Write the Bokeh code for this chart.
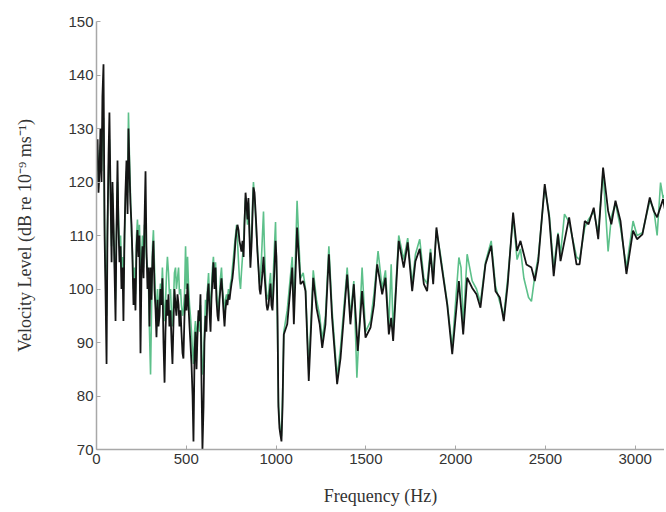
from bokeh.plotting import figure
from bokeh.models import FixedTicker
from bokeh.embed import file_html
from bokeh.resources import INLINE

# ---- black series (frequency in Hz, level in dB) ----
black_freq = [0, 6, 11, 17, 22, 28, 33, 39, 45, 50, 56, 61, 67, 72, 78, 84, 89, 95, 100, 106,
              111, 117, 122, 128, 134, 139, 145, 150, 156, 161, 167, 173, 178, 184, 189, 195, 200, 206, 212, 217,
              223, 228, 234, 239, 245, 251, 256, 262, 267, 273, 278, 284, 290, 295, 301, 306, 312, 317, 323, 329,
              334, 340, 345, 351, 356, 362, 367, 373, 379, 384, 390, 395, 401, 406, 412, 418, 423, 429, 434, 440,
              445, 451, 457, 462, 468, 473, 479, 484, 490, 496, 501, 507, 512, 518, 523, 529, 535, 540, 546, 551,
              557, 562, 568, 574, 579, 585, 590, 596, 601, 607, 612, 618, 624, 629, 635, 640, 646, 651, 657, 663,
              668, 674, 679, 685, 690, 696, 702, 707, 713, 718, 724, 729, 735, 741, 746, 752, 757, 763, 768, 774,
              780, 785, 791, 796, 802, 807, 813, 819, 824, 830, 835, 841, 846, 852, 857, 863, 869, 874, 880, 885,
              891, 896, 902, 908, 913, 919, 924, 930, 935, 941, 947, 952, 958, 963, 969, 974, 980, 986, 991, 997,
              1002, 1008, 1013, 1019, 1024, 1030, 1036, 1043, 1062, 1090, 1099, 1117, 1136, 1151, 1164, 1182, 1207, 1225, 1243, 1257,
              1275, 1294, 1312, 1340, 1359, 1396, 1414, 1433, 1455, 1479, 1498, 1526, 1545, 1563, 1591, 1609, 1628, 1641, 1652, 1683,
              1711, 1733, 1758, 1776, 1800, 1823, 1841, 1860, 1875, 1893, 1915, 1953, 1981, 2018, 2042, 2064, 2092, 2116, 2138, 2166,
              2198, 2222, 2246, 2268, 2290, 2320, 2342, 2361, 2394, 2422, 2441, 2460, 2496, 2521, 2546, 2570, 2584, 2632, 2673, 2690,
              2719, 2740, 2769, 2794, 2821, 2849, 2867, 2890, 2918, 2951, 2988, 3010, 3040, 3081, 3103, 3122, 3155, 3170]
black_level = [125, 128, 118, 122, 130, 120, 136, 142, 110, 100, 86, 110, 125, 133, 118, 105, 120, 112, 104, 94,
               110, 124, 112, 105, 108, 100, 104, 94, 110, 118, 124, 114, 130, 122, 116, 112, 106, 97, 102, 96,
               108, 111, 106, 110, 88, 104, 108, 102, 112, 122, 108, 100, 104, 93, 104, 98, 106, 109, 100, 96,
               91, 98, 93, 95, 100, 97, 102, 90, 82.5, 92, 98, 95, 99, 93, 96, 90, 86, 94, 100, 97,
               95, 99, 97, 93, 96, 92, 88, 87, 95, 99, 96, 101, 97, 93, 90, 86, 80, 71.5, 88, 92,
               85, 91, 96, 94, 99, 82, 70, 78, 90, 95, 92, 99, 101, 96, 92, 98, 102, 105, 100, 104,
               98, 95, 94, 98, 100, 102, 99, 96, 93, 96, 98, 97, 99, 98, 99.5, 101, 102, 104, 106, 109,
               111, 112, 111, 109, 108, 107, 109, 106, 112, 118, 116, 113, 117, 110, 104, 108, 114, 119, 118, 115,
               111, 107, 104, 100, 99, 101, 103, 106, 103, 100, 97, 96, 97, 99, 101, 97, 96, 100, 104, 109,
               106, 95, 78, 74, 72.8, 71.5, 78, 91.5, 93.4, 104, 93.4, 111.5, 100.9, 101.5, 99.6, 82.8, 102.1, 96.5, 93.4, 89,
               93.4, 106.5, 94.6, 82.2, 87.1, 102.7, 93.4, 100.9, 88.4, 99.6, 90.9, 92.8, 97, 104.6, 99, 102.1, 91.5, 94.6, 90.3, 109,
               104, 108.7, 99.6, 105.2, 107.5, 100.9, 99.6, 106.8, 100.9, 111.5, 105.9, 97.1, 87.8, 101.5, 91.5, 102.1, 100.2, 99, 96.5, 104.6,
               108.1, 99.6, 98.4, 94, 100.9, 114.3, 107.1, 109, 104.6, 104, 101.5, 105.2, 119.6, 113.4, 102.4, 110.2, 105.2, 113.4, 104.6, 104.6,
               112.7, 112.1, 115.2, 109.3, 122.7, 114.6, 112.1, 116.5, 112.7, 102.8, 110.9, 109.3, 110.2, 117.1, 114.6, 113.4, 116.8, 114]

# ---- green series ----
green_freq = [0, 6, 11, 17, 22, 28, 33, 39, 45, 50, 56, 61, 67, 72, 78, 84, 89, 95, 100, 106,
              111, 117, 122, 128, 134, 139, 145, 150, 156, 161, 167, 173, 178, 184, 189, 195, 200, 206, 212, 217,
              223, 228, 234, 239, 245, 251, 256, 262, 267, 273, 278, 284, 290, 295, 301, 306, 312, 317, 323, 329,
              334, 340, 345, 351, 356, 362, 367, 373, 379, 384, 390, 395, 401, 406, 412, 418, 423, 429, 434, 440,
              445, 451, 457, 462, 468, 473, 479, 484, 490, 496, 501, 507, 512, 518, 523, 529, 535, 540, 546, 551,
              557, 562, 568, 574, 579, 585, 590, 596, 601, 607, 612, 618, 624, 629, 635, 640, 646, 651, 657, 663,
              668, 674, 679, 685, 690, 696, 702, 707, 713, 718, 724, 729, 735, 741, 746, 752, 757, 763, 768, 774,
              780, 785, 791, 796, 802, 807, 813, 819, 824, 830, 835, 841, 846, 852, 857, 863, 869, 874, 880, 885,
              891, 896, 902, 908, 913, 919, 924, 930, 935, 941, 947, 952, 958, 963, 969, 974, 980, 986, 991, 997,
              1002, 1008, 1013, 1019, 1024, 1030, 1036, 1043, 1062, 1090, 1099, 1117, 1136, 1151, 1164, 1182, 1207, 1225, 1243, 1257,
              1275, 1294, 1312, 1340, 1359, 1396, 1414, 1433, 1450, 1479, 1498, 1526, 1545, 1568, 1591, 1609, 1628, 1641, 1652, 1683,
              1711, 1733, 1758, 1776, 1800, 1823, 1841, 1860, 1875, 1893, 1915, 1953, 1981, 2018, 2030, 2042, 2064, 2092, 2116, 2138,
              2166, 2198, 2222, 2246, 2268, 2290, 2320, 2342, 2361, 2380, 2406, 2422, 2441, 2460, 2496, 2521, 2546, 2570, 2584, 2606,
              2632, 2673, 2690, 2719, 2740, 2769, 2794, 2821, 2849, 2867, 2890, 2918, 2951, 2988, 3010, 3040, 3081, 3103, 3122, 3141,
              3155, 3170]
green_level = [122, 126, 120, 125, 127, 122, 130, 132, 112, 104, 95, 112, 122, 128, 118, 108, 118, 110, 106, 98,
               110, 120, 114, 108, 110, 104, 106, 100, 110, 116, 122, 118, 133, 124, 118, 110, 107, 100, 104, 99,
               110, 113, 108, 112, 104, 106, 110, 104, 112, 110, 106, 104, 100, 92, 84, 95, 108, 111, 104, 98,
               94, 100, 96, 98, 101, 99, 104, 98, 94, 97, 103, 106, 103, 99, 100, 95, 93, 98, 103, 104,
               100, 102, 104, 99, 100, 97, 95, 96, 99, 108, 100, 106, 101, 97, 95, 92, 88, 86, 92, 94,
               89, 93, 95, 92, 97, 90, 84, 86, 92, 98, 95, 100, 103, 99, 95, 100, 104, 106, 102, 105,
               100, 97, 96, 99, 102, 104, 100, 98, 95, 98, 99, 98, 100, 99, 101, 102, 104, 106, 108, 110,
               112, 109, 105, 102, 100, 103, 106, 108, 113, 117, 115, 112, 116, 111, 106, 109, 116, 120, 117, 114,
               110, 108, 104, 101, 102, 106, 110, 114.5, 108, 102, 99, 98, 99, 101, 103, 99, 98, 104, 108, 112.5,
               104, 92, 79, 75, 73.5, 72.5, 80, 92, 96, 106, 96, 116.5, 102, 103, 100, 85, 103.5, 98, 95, 90.5,
               95, 108, 96, 83.5, 89, 104, 95, 101.5, 83.4, 104, 92, 94, 99, 107.1, 100, 103.5, 93, 104.6, 92, 110,
               105.5, 109.5, 101, 106.5, 109.3, 102, 101, 107.5, 102, 111, 106.5, 97.5, 89, 105.9, 104, 93, 106.5, 101.5, 100, 97.5,
               105, 109, 100.5, 97.5, 95, 102, 113.5, 105.5, 107.5, 102, 98.4, 97.7, 102.5, 106, 119, 114, 104, 110.5, 106.5, 114,
               112.5, 106, 105.5, 111.5, 113, 114.5, 110.5, 122, 107, 113.5, 116, 111.5, 104, 112.7, 110, 110.5, 116.5, 115, 110, 119.9,
               117, 118]

y_ticks = [70, 80, 90, 100, 110, 120, 130, 140, 150]
x_ticks = [0, 500, 1000, 1500, 2000, 2500, 3000]

p = figure(width=664, height=510, output_backend="svg", toolbar_location=None,
           x_range=(0, 3163), y_range=(70, 150),
           min_border_left=96, min_border_right=0, min_border_top=21, min_border_bottom=61)
p.outline_line_color = None
p.background_fill_color = "white"
p.border_fill_color = "white"
p.xgrid.visible = False
p.ygrid.visible = False

p.line(green_freq, green_level, line_color="#5dc08a", line_width=1.6)
p.line(black_freq, black_level, line_color="#151515", line_width=1.8)

for ax in (p.xaxis[0], p.yaxis[0]):
    ax.axis_line_color = "#a8a8a8"
    ax.axis_line_width = 1.5
    ax.major_tick_line_color = "#a8a8a8"
    ax.major_tick_in = 4
    ax.major_tick_out = 0
    ax.minor_tick_line_color = None
    ax.major_label_text_font = "Liberation Sans"
    ax.major_label_text_font_size = "15px"
    ax.major_label_text_color = "#333333"
    ax.axis_label_text_font = "Liberation Serif"
    ax.axis_label_text_font_size = "18px"
    ax.axis_label_text_font_style = "normal"
    ax.axis_label_text_color = "#333333"

p.xaxis[0].ticker = FixedTicker(ticks=x_ticks)
p.yaxis[0].ticker = FixedTicker(ticks=y_ticks)
p.xaxis[0].major_label_standoff = 4
p.yaxis[0].major_label_standoff = 3
p.xaxis[0].axis_label = "Frequency (Hz)"
p.yaxis[0].axis_label = "Velocity Level (dB re 10\u207b\u2079 ms\u207b\u00b9)"
p.xaxis[0].axis_label_standoff = 19
p.yaxis[0].axis_label_standoff = 30

open("out.html", "w").write(file_html(p, INLINE))
